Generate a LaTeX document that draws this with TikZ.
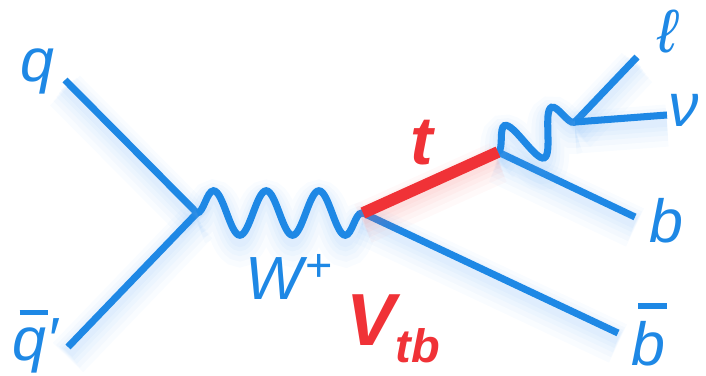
\documentclass[tikz,border=0pt]{standalone}
\usepackage{fontspec}
\setmainfont{Liberation Sans}
\usepackage{tikz}
\usetikzlibrary{decorations.pathmorphing}

\definecolor{feynblue}{RGB}{30,136,229}
\definecolor{topred}{RGB}{240,50,55}
\definecolor{glowblue}{RGB}{110,175,245}
\definecolor{glowred}{RGB}{245,110,110}

% letter with a thick bar above it
\newcommand{\barred}[1]{\setbox0\hbox{#1}\rlap{\kern0.12em\raisebox{\dimexpr\ht0+0.2em\relax}{\rule{0.85\wd0}{0.09em}}}\box0}

\begin{document}
\begin{tikzpicture}[
    x=0.03cm,y=-0.03cm,
    glow/.style={preaction={draw=#1,line width=36pt,opacity=.04,transform canvas={yshift=-9pt}},
                 preaction={draw=#1,line width=28pt,opacity=.045,transform canvas={yshift=-8pt}},
                 preaction={draw=#1,line width=21pt,opacity=.05,transform canvas={yshift=-7pt}},
                 preaction={draw=#1,line width=15pt,opacity=.055,transform canvas={yshift=-6pt}},
                 preaction={draw=#1,line width=10pt,opacity=.06,transform canvas={yshift=-5pt}}},
    fermion/.style={draw=feynblue,line width=6pt,glow=glowblue},
    boson/.style={fermion,decorate,decoration={snake,amplitude=19pt,segment length=#1}},
    topq/.style={draw=topred,line width=10pt,glow=glowred},
    lbl/.style={text=feynblue,inner sep=0pt,text depth=0pt,font=\fontsize{52}{52}\selectfont\itshape},
    redlbl/.style={text=topred,inner sep=0pt}]
  \useasboundingbox (0,0) rectangle (706,376);
  % ---- vertices ----
  \coordinate (vqq) at (197,213);   % q qbar' -> W+
  \coordinate (vtb) at (363,213);   % W+ -> t bbar
  \coordinate (vwb) at (498,152);   % t -> W b
  \coordinate (vln) at (575,122);   % W -> l nu
  % ---- external legs ----
  \coordinate (qin)  at (65,80);
  \coordinate (qbin) at (68,347);
  \coordinate (bbo)  at (618,333);
  \coordinate (bo)   at (635,217);
  \coordinate (lo)   at (637,57);
  \coordinate (nuo)  at (667,115);
  % ---- lines ----
  \draw[fermion] (qin) -- (vqq);
  \draw[fermion] (qbin) -- (vqq);
  \draw[boson=45pt] (vqq) -- (vtb);
  \draw[fermion] (vtb) -- (bbo);
  \draw[fermion] (vwb) -- (bo);
  \draw[boson=43pt] (vwb) -- (vln);
  \draw[fermion] (vln) -- (lo);
  \draw[fermion] (vln) -- (nuo);
  \draw[topq] (vtb) -- (vwb);
  % ---- labels ----
  \node[lbl,anchor=base] (qlab) at (37,82) {q};
  \node[lbl,anchor=base west] (qblab) at (12,360) {\barred{q}′};
  \node[lbl,anchor=base west] (wlab) at (245,300) {W\kern0.04em\raisebox{0.3em}{\fontsize{40}{40}\selectfont\upshape +}};
  \node[lbl,anchor=base] (llab) at (667,53) {ℓ};
  \node[lbl,anchor=base] (nulab) at (684,127) {ν};
  \node[lbl,anchor=base] (blab) at (666,243) {b};
  \node[lbl,anchor=base] (bblab) at (648,365) {\barred{b}};
  \node[redlbl,anchor=base,font=\fontsize{58}{58}\selectfont\bfseries\itshape] (tlab) at (422,165) {t};
  \node[redlbl,anchor=base west,font=\fontsize{63}{63}\selectfont\bfseries\itshape] (vlab) at (346,345) {V\raisebox{-0.24em}{\fontsize{40}{40}\selectfont tb}};
\end{tikzpicture}
\end{document}
